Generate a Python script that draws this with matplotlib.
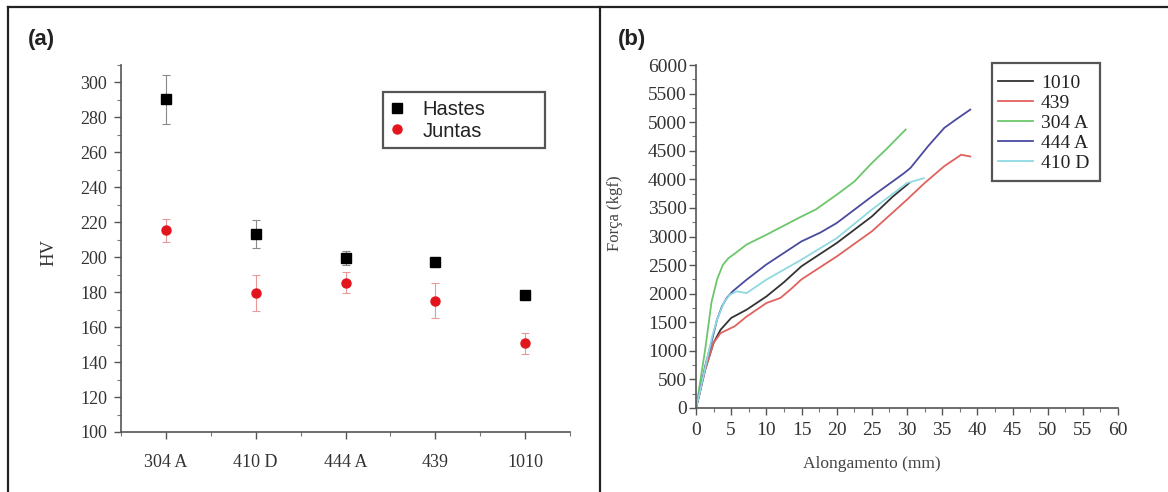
import numpy as np
import matplotlib
matplotlib.use('Agg')
import matplotlib.pyplot as plt
from matplotlib.lines import Line2D
from matplotlib.patches import Rectangle
from matplotlib.ticker import MultipleLocator

# ---- data, panel (a): hardness ----
ligas = ['304 A', '410 D', '444 A', '439', '1010']
hastes = [290.5, 213.5, 199.8, 197.5, 178.3]
hastes_err = [14, 8, 4, 1.5, 1.5]
juntas = [215.5, 179.5, 185.5, 175.0, 150.8]
juntas_err = [6.5, 10.5, 6, 10, 6]

# ---- data, panel (b): force x elongation ----
x_1010 = [0, 0.5, 1.3, 2.5, 3.5, 5, 7.2, 10, 12.5, 15, 20, 25, 28, 30.3]
f_1010 = [0, 250, 670, 1140, 1370, 1575, 1720, 1950, 2200, 2480, 2885, 3350, 3700, 3935]
x_439 = [0, 0.5, 1.3, 2.5, 3.5, 5.5, 7.2, 10, 12, 13.5, 15, 20, 25, 30, 32.5, 35.3, 37.7, 39]
f_439 = [0, 250, 670, 1140, 1310, 1430, 1600, 1835, 1925, 2080, 2250, 2650, 3090, 3645, 3935, 4230, 4430, 4400]
x_304 = [0, 0.4, 1.3, 2.2, 3, 3.8, 4.6, 5.5, 7.2, 10, 15, 17, 20, 22.5, 25, 27, 29.8]
f_304 = [0, 300, 1020, 1850, 2250, 2500, 2620, 2700, 2860, 3030, 3350, 3470, 3730, 3960, 4285, 4520, 4870]
x_444 = [0, 0.5, 1.3, 2.3, 3, 3.7, 4.4, 5.2, 7.2, 10, 15, 17.7, 20, 25, 29.5, 30.5, 33, 35.3, 37, 39]
f_444 = [0, 250, 730, 1200, 1550, 1780, 1930, 2040, 2245, 2510, 2915, 3070, 3235, 3700, 4100, 4200, 4580, 4900, 5050, 5220]
x_410 = [0, 0.5, 1.3, 2.3, 3, 4, 4.8, 5.8, 7.2, 10, 15, 20, 25, 30, 32.4]
f_410 = [0, 250, 700, 1250, 1550, 1850, 1980, 2040, 2010, 2245, 2595, 2970, 3470, 3935, 4020]

W, H = 1168, 492
serif = 'Liberation Serif'
sans = 'Liberation Sans'

fig = plt.figure(figsize=(W / 100, H / 100), dpi=100)

def fx(px):
    return px / W

def fy(py):
    return 1 - py / H

# panel borders
for (x0, y0, x1, y1) in [(8, 7, W, 7), (8, 7, 8, H), (600, 7, 600, H)]:
    fig.add_artist(Line2D([fx(x0), fx(x1)], [fy(y0), fy(y1)], color='#222222', lw=1.6))

fig.text(fx(28), fy(40), '(a)', fontsize=16, fontweight='bold', family=sans, va='center', color='#222222')
fig.text(fx(618), fy(40), '(b)', fontsize=16, fontweight='bold', family=sans, va='center', color='#222222')

# ---------- panel (a) ----------
axa = fig.add_axes([fx(121), fy(432), fx(570) - fx(121), fy(65) - fy(432)])
pos = np.arange(1, len(ligas) + 1)
axa.errorbar(pos, hastes, yerr=hastes_err, fmt='s', color='black', ms=7,
             ecolor='#8a8a8a', elinewidth=0.8, capsize=3, capthick=0.8, label='Hastes')
axa.errorbar(pos, juntas, yerr=juntas_err, fmt='o', color='#e3151c', ms=6.5,
             ecolor='#e89a9a', elinewidth=0.8, capsize=3, capthick=0.8, label='Juntas')
axa.set_xlim(0.5, 5.5)
axa.set_ylim(100, 310)
axa.set_xticks(pos)
axa.set_xticklabels(ligas)
axa.set_yticks(np.arange(100, 301, 20))
axa.xaxis.set_minor_locator(MultipleLocator(1.0, offset=0.5))
axa.yaxis.set_minor_locator(MultipleLocator(10))
for s in ['top', 'right']:
    axa.spines[s].set_visible(False)
for s in ['left', 'bottom']:
    axa.spines[s].set_color('#555555')
    axa.spines[s].set_linewidth(1.2)
axa.tick_params(which='major', direction='out', length=5, width=1, color='#555555')
axa.tick_params(which='minor', direction='out', length=3, width=0.8, color='#777777')
axa.tick_params(axis='x', which='major', pad=11)
axa.tick_params(axis='y', which='major', pad=5)
for lab in axa.get_xticklabels() + axa.get_yticklabels():
    lab.set_fontfamily(serif)
    lab.set_fontsize(13)
    lab.set_color('#333333')
axa.set_ylabel('HV', family=serif, fontsize=13.5, color='#333333')
axa.yaxis.set_label_coords(-0.142, 0.49)

handles_a = [Line2D([], [], marker='s', ls='none', color='black', ms=7),
             Line2D([], [], marker='o', ls='none', color='#e3151c', ms=6.5)]
leg_a = axa.legend(handles_a, ['Hastes', 'Juntas'], loc='center left',
                   bbox_to_anchor=(fx(389), fy(120.5)), bbox_transform=fig.transFigure,
                   frameon=False, borderpad=0, borderaxespad=0, handlelength=0.8,
                   handletextpad=0.85, labelspacing=0.1,
                   prop={'family': sans, 'size': 14.5, 'weight': 'medium'})
for t in leg_a.get_texts():
    t.set_color('#222222')
fig.add_artist(Rectangle((fx(383), fy(148)), fx(545) - fx(383), fy(92) - fy(148),
                         transform=fig.transFigure, fill=False, ec='#555555', lw=1.6))

# ---------- panel (b) ----------
axb = fig.add_axes([fx(696), fy(408), fx(1118) - fx(696), fy(65) - fy(408)])
series = [(x_1010, f_1010, '1010', '#333333'),
          (x_439, f_439, '439', '#e0625e'),
          (x_304, f_304, '304 A', '#6cc66c'),
          (x_444, f_444, '444 A', '#4b4aa0'),
          (x_410, f_410, '410 D', '#8fd9e0')]
for xs, fs, name, col in series:
    axb.plot(xs, fs, color=col, lw=1.3, label=name, solid_joinstyle='round')
axb.set_xlim(0, 60)
axb.set_ylim(0, 6000)
axb.set_xticks(np.arange(0, 61, 5))
axb.set_yticks(np.arange(0, 6001, 500))
axb.xaxis.set_minor_locator(MultipleLocator(2.5))
axb.yaxis.set_minor_locator(MultipleLocator(250))
for s in ['top', 'right']:
    axb.spines[s].set_visible(False)
for s in ['left', 'bottom']:
    axb.spines[s].set_color('#555555')
    axb.spines[s].set_linewidth(1.2)
axb.tick_params(which='major', direction='out', length=5, width=1, color='#555555')
axb.tick_params(which='minor', direction='out', length=3, width=0.8, color='#777777')
axb.tick_params(axis='x', which='major', pad=5)
axb.tick_params(axis='y', which='major', pad=1.5)
for lab in axb.get_xticklabels() + axb.get_yticklabels():
    lab.set_fontfamily(serif)
    lab.set_fontsize(14)
    lab.set_color('#333333')
axb.set_xlabel('Alongamento (mm)', family=serif, fontsize=12.5, color='#444444')
axb.xaxis.set_label_coords(0.417, -0.14)
axb.set_ylabel('Força (kgf)', family=serif, fontsize=12, color='#444444')
axb.yaxis.set_label_coords(-0.172, 0.569)

leg_b = axb.legend(loc='center left', bbox_to_anchor=(fx(998), fy(123)),
                   bbox_transform=fig.transFigure, frameon=False, borderpad=0,
                   borderaxespad=0, handlelength=1.8, handletextpad=0.4,
                   labelspacing=0.12, prop={'family': serif, 'size': 14})
for t in leg_b.get_texts():
    t.set_color('#222222')
fig.add_artist(Rectangle((fx(992), fy(181)), fx(1100) - fx(992), fy(63) - fy(181),
                         transform=fig.transFigure, fill=False, ec='#555555', lw=1.6))

fig.savefig('out.png', dpi=100, facecolor='white')
